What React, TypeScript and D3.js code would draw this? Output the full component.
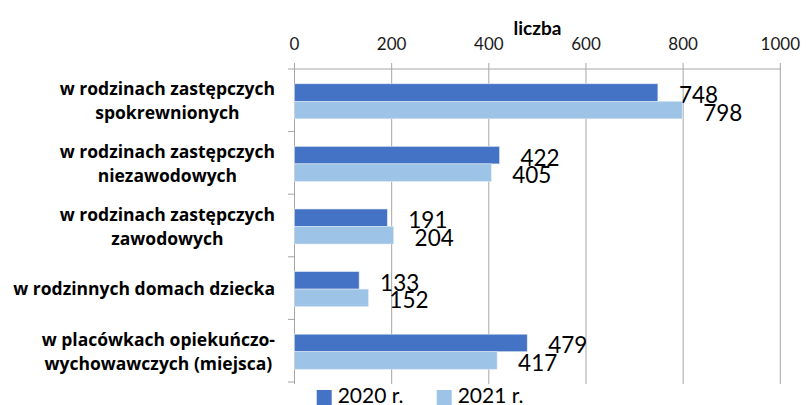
import React from "react";
import * as d3 from "d3";

const categories = [
  ["w rodzinach zastępczych", "spokrewnionych"],
  ["w rodzinach zastępczych", "niezawodowych"],
  ["w rodzinach zastępczych", "zawodowych"],
  ["w rodzinnych domach dziecka"],
  ["w placówkach opiekuńczo-", "wychowawczych (miejsca)"],
];
const seriesNames = ["2020 r.", "2021 r."];
const values2020 = [748, 422, 191, 133, 479];
const values2021 = [798, 405, 204, 152, 417];
const ticks = [0, 200, 400, 600, 800, 1000];
const axisTitle = "liczba";
const colors = ["#4472C4", "#9DC3E6"];

const W = 810;
const H = 405;
const FONT = "Lato, 'Open Sans', sans-serif";
const CAT_FONT = "'Open Sans', Lato, sans-serif";

function measure(text: string, font: string): number {
  const c = document.createElement("canvas");
  const ctx = c.getContext("2d")!;
  ctx.font = font;
  return ctx.measureText(text).width;
}

export default function App() {
  const x = d3.scaleLinear().domain([0, 1000]).range([294.5, 780.3]);
  const keys = categories.map((_, i) => String(i));
  const y = d3.scaleBand().domain(keys).range([69, 382]).paddingInner(0).paddingOuter(0);
  const inner = d3
    .scaleBand()
    .domain(["0", "1"])
    .range([0, y.bandwidth()])
    .paddingOuter((y.bandwidth() - 35) / 2 / 17.5)
    .paddingInner(0);
  const series = [values2020, values2021];
  const catSize = 17.5;
  const labelFont = `bold ${catSize}px 'Open Sans'`;
  const gridColor = "#A6A6A6";

  return (
    <svg
      width={W}
      height={H}
      style={{ position: "absolute", left: 0, top: 0, background: "#fff" }}
    >
      {/* gridlines */}
      {ticks.map((t) => (
        <line
          key={"g" + t}
          x1={x(t)}
          x2={x(t)}
          y1={63}
          y2={384}
          stroke={gridColor}
          strokeWidth={1}
        />
      ))}
      {/* top axis line */}
      <line x1={288} x2={x(1000)} y1={69} y2={69} stroke={gridColor} strokeWidth={1} />
      {/* left axis */}
      <line x1={x(0)} x2={x(0)} y1={69} y2={382} stroke={gridColor} strokeWidth={1} />
      {keys.map((k) => (
        <line
          key={"lt" + k}
          x1={288}
          x2={x(0)}
          y1={(y(k) as number) + y.bandwidth()}
          y2={(y(k) as number) + y.bandwidth()}
          stroke={gridColor}
        />
      ))}
      {/* tick labels */}
      {ticks.map((t) => (
        <text
          key={"t" + t}
          x={x(t)}
          y={43}
          textAnchor="middle"
          dominantBaseline="central"
          fontFamily={FONT}
          fontSize={17}
          fill="#1a1a1a"
        >
          {t}
        </text>
      ))}
      <text
        x={(x(0) + x(1000)) / 2}
        y={27}
        textAnchor="middle"
        dominantBaseline="central"
        fontFamily={FONT}
        fontWeight="bold"
        fontSize={19}
        fill="#000"
      >
        {axisTitle}
      </text>
      {/* bars */}
      {series.map((vals, s) =>
        vals.map((v, i) => {
          const y0 = (y(String(i)) as number) + (inner(String(s)) as number) + 1;
          const h = inner.bandwidth();
          return (
            <g key={`b${s}-${i}`}>
              <rect
                x={x(0)}
                y={y0}
                width={x(v) - x(0)}
                height={h}
                fill={colors[s]}
                stroke="#dce6f2"
                strokeWidth={0.6}
              />
              <text
                x={x(v) + 21}
                y={y0 + h / 2 + 2}
                dominantBaseline="central"
                fontFamily={FONT}
                fontSize={22.5}
                fill="#000"
              >
                {v}
              </text>
            </g>
          );
        })
      )}
      {/* category labels */}
      {categories.map((lines, i) => {
        const maxW = Math.max(...lines.map((l) => measure(l, labelFont)));
        const cx = 275 - maxW / 2;
        const cy = (y(String(i)) as number) + y.bandwidth() / 2;
        const lh = 24;
        return (
          <g key={"c" + i}>
            {lines.map((l, j) => (
              <text
                key={j}
                x={cx}
                y={cy + (j - (lines.length - 1) / 2) * lh}
                textAnchor="middle"
                dominantBaseline="central"
                fontFamily={CAT_FONT}
                fontWeight="bold"
                fontSize={catSize}
                fill="#000"
              >
                {l}
              </text>
            ))}
          </g>
        );
      })}
      {/* legend */}
      {seriesNames.map((n, s) => {
        const lx = [316.7, 436.7][s];
        return (
          <g key={"l" + s}>
            <rect x={lx} y={390} width={15} height={15} fill={colors[s]} />
            <text
              x={lx + 21}
              y={403}
              fontFamily={FONT}
              fontSize={21}
              fill="#000"
            >
              {n}
            </text>
          </g>
        );
      })}
    </svg>
  );
}
